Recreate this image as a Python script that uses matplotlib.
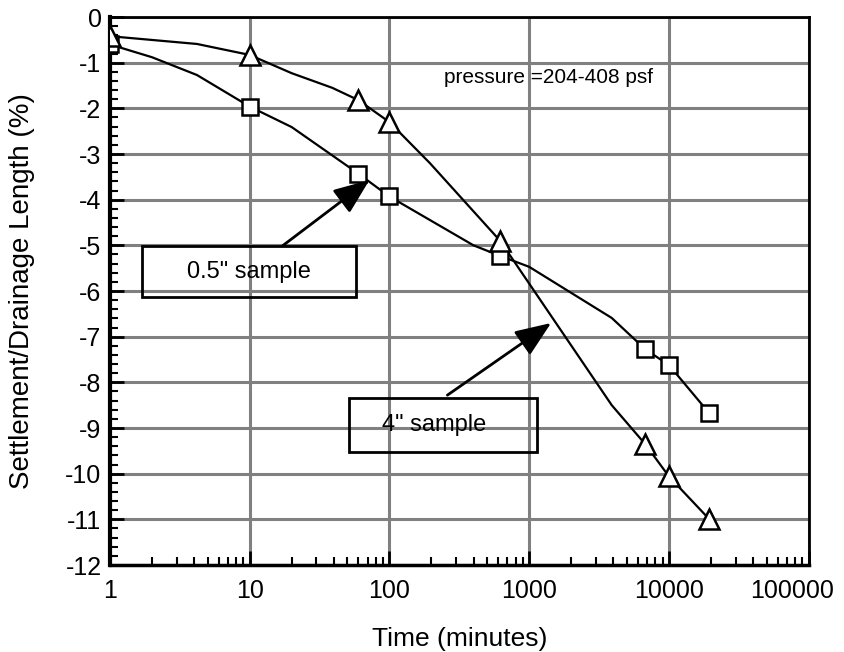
import matplotlib
matplotlib.use("Agg")
import matplotlib.pyplot as plt
import matplotlib.transforms as mtransforms
from matplotlib.ticker import LogLocator, MultipleLocator, FixedLocator, NullFormatter
from matplotlib.patches import Rectangle

plt.rcParams['font.family'] = ['Liberation Sans', 'DejaVu Sans']

# ---- data ----
marker_time = [1, 10, 60, 100, 620, 6800, 10000, 19500]
tri_marker = [-0.42, -0.83, -1.82, -2.30, -4.90, -9.36, -10.06, -11.0]
sq_marker = [-0.60, -1.96, -3.43, -3.93, -5.23, -7.28, -7.62, -8.68]

tri_line_time = [1, 4.2, 10, 20, 39, 60, 100, 195, 620, 3900, 6800, 10000, 19500]
tri_line_val = [-0.42, -0.59, -0.83, -1.23, -1.55, -1.82, -2.30, -3.20, -4.90,
                -8.50, -9.36, -10.06, -11.0]
sq_line_time = [1, 2, 4.2, 10, 20, 60, 100, 400, 620, 1000, 3900, 6800, 10000, 19500]
sq_line_val = [-0.60, -0.88, -1.27, -1.96, -2.41, -3.43, -3.93, -5.00, -5.23,
               -5.47, -6.59, -7.28, -7.62, -8.68]

x_ticks = [1, 10, 100, 1000, 10000, 100000]
x_ticklabels = ['1', '10', '100', '1000', '10000', '100000']
y_ticks = list(range(-12, 1))

fig = plt.figure(figsize=(8.45, 6.52), dpi=100)
ax = fig.add_axes([0.130, 0.1334, 0.827, 0.8405])

ax.set_xscale('log')
ax.set_xlim(1, 100000)
ax.set_ylim(-12, 0)

ax.grid(True, which='major', color='#808080', lw=2.2, zorder=0)
ax.set_axisbelow(True)

ax.plot(tri_line_time, tri_line_val, color='black', lw=1.6, zorder=3)
ax.plot(sq_line_time, sq_line_val, color='black', lw=1.6, zorder=3)
ax.plot(marker_time, sq_marker, ls='none', marker='s', ms=12, mfc='white',
        mec='black', mew=1.8, zorder=4)
ax.plot(marker_time, tri_marker, ls='none', marker='^', ms=15, mfc='white',
        mec='black', mew=1.8, zorder=5)

ax.xaxis.set_major_locator(FixedLocator(x_ticks))
ax.set_xticklabels(x_ticklabels)
ax.xaxis.set_minor_locator(LogLocator(base=10, subs=range(2, 10)))
ax.xaxis.set_minor_formatter(NullFormatter())
ax.set_yticks(y_ticks)
ax.set_yticklabels([str(v) for v in y_ticks])
ax.yaxis.set_minor_locator(MultipleLocator(0.2))

ax.tick_params(axis='both', which='major', direction='in', length=10, width=2,
               labelsize=18, color='black')
ax.tick_params(axis='both', which='minor', direction='in', length=6, width=1.5)
ax.tick_params(axis='x', pad=10)
ax.tick_params(axis='y', pad=6)

# last x tick label sits slightly left so it stays inside the figure
last = ax.get_xticklabels()[-1]
last.set_transform(last.get_transform() +
                   mtransforms.ScaledTranslation(-0.17, 0, fig.dpi_scale_trans))

for s in ax.spines.values():
    s.set_linewidth(2.0)
ax.spines['left'].set_linewidth(3.0)
ax.spines['bottom'].set_linewidth(2.5)

ax.set_xlabel('Time (minutes)', fontsize=19, labelpad=17)
ax.set_ylabel('Settlement/Drainage Length (%)', fontsize=20, labelpad=22)

ax.text(0.478, 0.890, 'pressure =204-408 psf', transform=ax.transAxes,
        fontsize=15, ha='left', va='center', zorder=6)

# annotation boxes
ax.add_patch(Rectangle((0.0458, 0.489), 0.306, 0.093, transform=ax.transAxes,
                       fill=False, ec='black', lw=2, zorder=6))
ax.text(0.1996, 0.535, '0.5" sample', transform=ax.transAxes, fontsize=17,
        ha='center', va='center', zorder=6)
ax.add_patch(Rectangle((0.342, 0.206), 0.269, 0.099, transform=ax.transAxes,
                       fill=False, ec='black', lw=2, zorder=6))
ax.text(0.464, 0.2555, '4" sample', transform=ax.transAxes, fontsize=17,
        ha='center', va='center', zorder=6)

arrow_kw = dict(arrowstyle='-|>,head_length=1.0,head_width=0.4',
                mutation_scale=22, color='black', lw=2, shrinkA=0, shrinkB=0)
ax.annotate('', xy=(72, -3.57), xytext=(17.2, -5.01), arrowprops=arrow_kw, zorder=7)
ax.annotate('', xy=(1436, -6.70), xytext=(260, -8.28), arrowprops=arrow_kw, zorder=7)

fig.savefig('out.png', dpi=100)
